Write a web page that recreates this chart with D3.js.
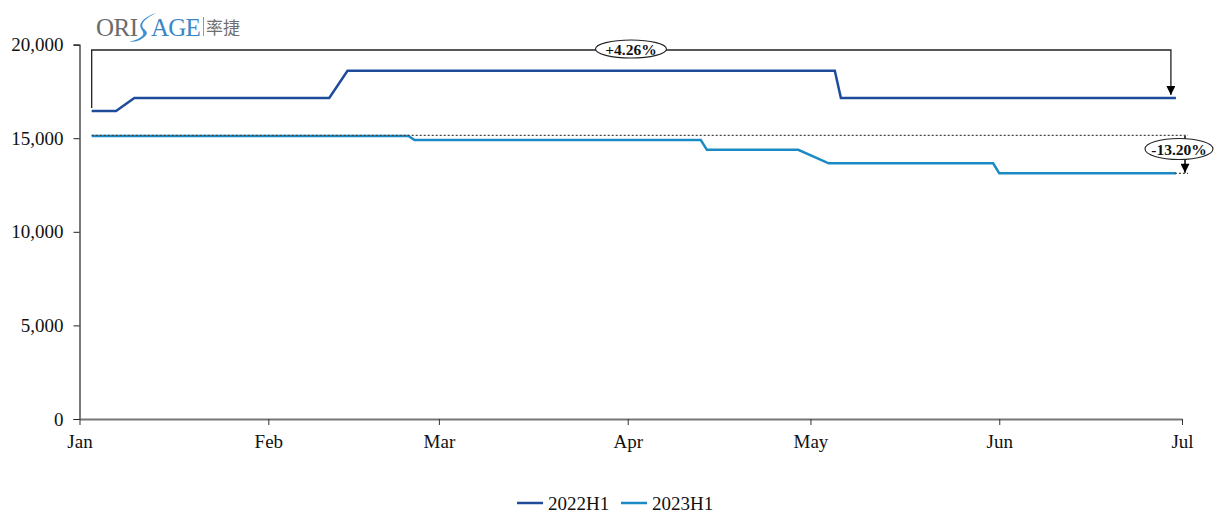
<!DOCTYPE html>
<html><head><meta charset="utf-8">
<script src="https://cdn.jsdelivr.net/npm/d3@7"></script>
<style>body{margin:0;background:#fff}svg{display:block}</style>
</head><body><svg id="c" width="1230" height="520"></svg>
<script>
const series2022Dates = ["01-03","01-07","01-10","02-11","02-14","05-05","05-06","06-30"];
const series2022Values = [16450,16450,17150,17150,18600,18600,17150,17150];
const series2023Dates = ["01-03","02-24","02-25","04-13","04-14","04-29","05-04","05-31","06-01","06-30"];
const series2023Values = [15120,15120,14900,14900,14380,14380,13660,13660,13124,13124];
const seriesNames = ["2022H1","2023H1"];
const seriesColors = ["#1E4C9A","#1B8AC4"];
const yTicks = [0,5000,10000,15000,20000];
const monthLabels = ["Jan","Feb","Mar","Apr","May","Jun","Jul"];
const changeLabels = ["+4.26%","-13.20%"];

const parse = d3.timeParse("%Y-%m-%d");
const toDate = s => parse("2022-" + s);
const svg = d3.select("#c");
const font = "'Liberation Serif','Times New Roman',serif";

const x = d3.scaleTime().domain([toDate("01-01"), toDate("07-01")]).range([79.5, 1182]);
const y = d3.scaleLinear().domain([0,20000]).range([419, 44.6]);

// y axis
const yAxis = svg.append("g").attr("transform","translate(79.5,0)")
  .call(d3.axisLeft(y).tickValues(yTicks).tickFormat(d3.format(",")).tickSize(6).tickPadding(10));
yAxis.select(".domain").attr("stroke","#222").attr("stroke-width",1.2);
yAxis.selectAll(".tick line").attr("stroke","#222");
yAxis.selectAll("text").attr("font-family",font).attr("font-size",19).attr("fill","#111");

// x axis
const months = d3.range(0,7).map(i => new Date(2022, i, 1));
const xAxis = svg.append("g").attr("transform","translate(0,419)")
  .call(d3.axisBottom(x).tickValues(months).tickFormat((d,i)=>monthLabels[i]).tickSize(6).tickSizeOuter(0).tickPadding(10));
xAxis.select(".domain").attr("stroke","#777").attr("stroke-width",2);
xAxis.selectAll(".tick line").attr("stroke","#333");
xAxis.selectAll("text").attr("font-family",font).attr("font-size",19).attr("fill","#111");

const line = d3.line().x(d=>x(d.date)).y(d=>y(d.v));
const d22 = series2022Dates.map((s,i)=>({date:toDate(s), v:series2022Values[i]}));
const d23 = series2023Dates.map((s,i)=>({date:toDate(s), v:series2023Values[i]}));

const xStart = x(d22[0].date), xEnd = x(d22[d22.length-1].date);

svg.append("path").datum(d22).attr("d",line).attr("fill","none").attr("stroke",seriesColors[0]).attr("stroke-width",2.5);
svg.append("path").datum(d23).attr("d",line).attr("fill","none").attr("stroke",seriesColors[1]).attr("stroke-width",2.5);

// dotted reference lines
svg.append("line").attr("x1",xStart).attr("x2",1188).attr("y1",y(series2023Values[0])-0.5).attr("y2",y(series2023Values[0])-0.5)
  .attr("stroke","#444").attr("stroke-width",1.3).attr("stroke-dasharray","2,2");
svg.append("line").attr("x1",xEnd-1).attr("x2",1188).attr("y1",y(series2023Values[series2023Values.length-1])).attr("y2",y(series2023Values[series2023Values.length-1]))
  .attr("stroke","#444").attr("stroke-width",1.3).attr("stroke-dasharray","2,2");

// arrow marker
svg.append("defs").append("marker").attr("id","arr").attr("viewBox","0 0 10 10").attr("refX",10).attr("refY",5)
  .attr("markerUnits","userSpaceOnUse").attr("markerWidth",10).attr("markerHeight",9).attr("orient","auto")
  .append("path").attr("d","M0,0 L10,5 L0,10 z").attr("fill","#000");

// bracket +4.26%
const topY = 50;
const xArrow = xEnd - 5;
svg.append("path").attr("d",`M${xStart},${y(series2022Values[0])-3} V${topY} H${xArrow} V${y(series2022Values[series2022Values.length-1])-3}`)
  .attr("fill","none").attr("stroke","#222").attr("stroke-width",1.3).attr("marker-end","url(#arr)");
svg.append("ellipse").attr("cx",631).attr("cy",49).attr("rx",35.5).attr("ry",9).attr("fill","#fff").attr("stroke","#222").attr("stroke-width",1.1);
svg.append("text").attr("x",631).attr("y",54.5).attr("text-anchor","middle").attr("font-family",font).attr("font-weight","bold").attr("font-size",15.5).attr("fill","#111").text(changeLabels[0]);

// -13.20% arrow
const xA2 = 1185;
svg.append("line").attr("x1",xA2).attr("x2",xA2).attr("y1",y(series2023Values[0])).attr("y2",y(series2023Values[series2023Values.length-1])-0.5)
  .attr("stroke","#111").attr("stroke-width",1.6).attr("marker-end","url(#arr)");
svg.append("ellipse").attr("cx",1179).attr("cy",149).attr("rx",34).attr("ry",10.5).attr("fill","#fff").attr("stroke","#222").attr("stroke-width",1.1);
svg.append("text").attr("x",1179).attr("y",154.5).attr("text-anchor","middle").attr("font-family",font).attr("font-weight","bold").attr("font-size",15.5).attr("fill","#111").text(changeLabels[1]);

// legend
const lg = svg.append("g");
[[517,548],[621,652]].forEach((p,i)=>{
  lg.append("line").attr("x1",p[0]).attr("x2",p[0]+26).attr("y1",503).attr("y2",503).attr("stroke",seriesColors[i]).attr("stroke-width",2.5);
  lg.append("text").attr("x",p[1]).attr("y",509.5).attr("font-family",font).attr("font-size",19).attr("fill","#111").text(seriesNames[i]);
});

// logo
const logo = svg.append("g");
logo.append("text").attr("x",96).attr("y",36).attr("font-family",font).attr("font-size",25).attr("fill","#6b6b6b").attr("letter-spacing",-0.5).text("ORI");
logo.append("path").attr("d","M156,13 C146,18 140,23 143,28 C146,31 150,33 143,38 C139,41 134,42 129,42 C136,40 141,38 143,35 C145,31 138,28 141,23 C144,18 150,15 156,13 z").attr("fill","#3d8fd0");
logo.append("text").attr("x",151).attr("y",36).attr("font-family",font).attr("font-size",25).attr("fill","#3a87c8").attr("letter-spacing",-0.8).text("AGE");
logo.append("line").attr("x1",203.5).attr("x2",203.5).attr("y1",17).attr("y2",36).attr("stroke","#999").attr("stroke-width",1);
logo.append("text").attr("x",206).attr("y",34).attr("font-family","'Noto Sans CJK SC',sans-serif").attr("font-size",17).attr("fill","#707070").text("率捷");
</script></body></html>
